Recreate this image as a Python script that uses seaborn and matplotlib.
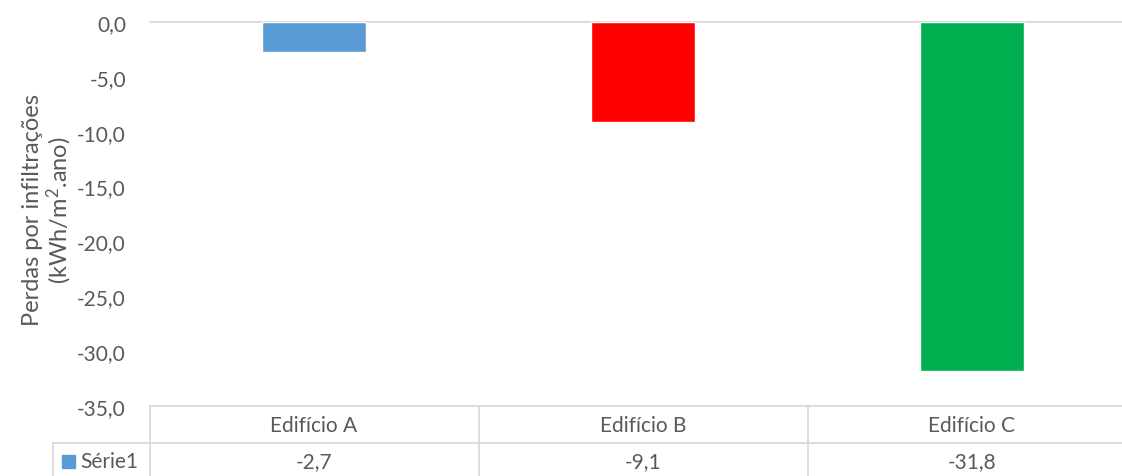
import matplotlib
matplotlib.use("Agg")
import matplotlib.pyplot as plt
import matplotlib.transforms as mtransforms
import seaborn as sns
import pandas as pd

categories = ["Edifício A", "Edifício B", "Edifício C"]
values = [-2.7, -9.1, -31.8]
value_labels = ["-2,7", "-9,1", "-31,8"]
colors = ["#5B9BD5", "#FF0000", "#00B050"]
series_name = "Série1"
yticks = [0, -5, -10, -15, -20, -25, -30, -35]
ylabel = "Perdas por infiltrações\n(kWh/m$^2$.ano)"

sns.set_theme(style="white")
plt.rcParams['font.family'] = ['Lato', 'DejaVu Sans']
plt.rcParams['mathtext.default'] = 'regular'
txt = "#595959"
grid = "#D9D9D9"

W, H = 1122, 477
fig = plt.figure(figsize=(W / 100, H / 100), dpi=100)
left, right, top, bottom = 149.5, 1136.5, 23, 407
ax = fig.add_axes([left / W, 1 - bottom / H, (right - left) / W, (bottom - top) / H])

df = pd.DataFrame({"cat": categories, "val": values})
sns.barplot(data=df, x="cat", y="val", hue="cat", palette=colors, width=0.316,
            legend=False, ax=ax, saturation=1)
ax.set_ylim(-35, 0)
ax.set_xlim(-0.5, 2.5)
ax.set_yticks(yticks)
ax.set_yticklabels([f"{v:.1f}".replace(".", ",") for v in yticks], color=txt, fontsize=15)
ax.tick_params(axis="y", length=0, pad=17)
ax.set_xticks([])
ax.set_xlabel("")
ax.set_ylabel(ylabel, color=txt, fontsize=17, linespacing=1.05)
ax.yaxis.set_label_coords(-0.077, 0.513)
for s in ax.spines.values():
    s.set_visible(False)
ax.axhline(0, color=grid, lw=1.3, zorder=0.5, clip_on=False)

# data table below axes
def fy(py):
    return 1 - py / H
def fx(px):
    return px / W
ft = fig.transFigure
lc = grid
lw = 1.3
fig.add_artist(plt.Line2D([fx(left), fx(right)], [fy(407), fy(407)], color=lc, lw=lw, transform=ft))
fig.add_artist(plt.Line2D([fx(53), fx(right)], [fy(444), fy(444)], color=lc, lw=lw, transform=ft))
fig.add_artist(plt.Line2D([fx(53), fx(53)], [fy(444), fy(480)], color=lc, lw=lw, transform=ft))
bt = mtransforms.blended_transform_factory(ax.transData, ft)
for b in [-0.5, 0.5, 1.5, 2.5]:
    ax.add_artist(plt.Line2D([b, b], [fy(407), fy(480)], color=lc, lw=lw, transform=bt, clip_on=False))
for i, (c, vl) in enumerate(zip(categories, value_labels)):
    ax.text(i, fy(426), c, transform=bt, ha="center", va="center", color=txt, fontsize=15, clip_on=False)
    ax.text(i, fy(462), vl, transform=bt, ha="center", va="center", color=txt, fontsize=15, clip_on=False)
fig.add_artist(plt.Rectangle((fx(62), fy(469)), 13 / W, 13 / H, transform=ft, color=colors[0]))
fig.text(fx(80), fy(462), series_name, ha="left", va="center", color=txt, fontsize=15)

fig.savefig("out.png", dpi=100)
